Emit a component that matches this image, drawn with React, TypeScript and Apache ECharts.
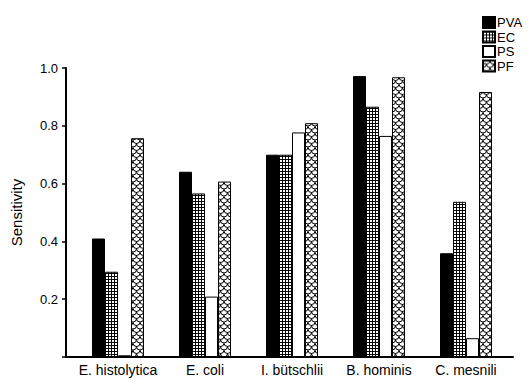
import React, { useEffect, useRef } from "react";
import * as echarts from "echarts";

const categories = ["E. histolytica", "E. coli", "I. bütschlii", "B. hominis", "C. mesnili"];
const seriesNames = ["PVA", "EC", "PS", "PF"];
const pva = [0.41, 0.641, 0.70, 0.972, 0.359];
const ec = [0.295, 0.566, 0.70, 0.866, 0.537];
const ps = [0.006, 0.209, 0.777, 0.765, 0.065];
const pf = [0.757, 0.607, 0.809, 0.968, 0.917];
const yTicks = [0.2, 0.4, 0.6, 0.8, 1.0];

const FONT = "'Liberation Sans', Arial, sans-serif";

function svgUrl(svg: string) {
  return "data:image/svg+xml;charset=utf-8," + encodeURIComponent(svg);
}

const gridTile = svgUrl(
  '<svg xmlns="http://www.w3.org/2000/svg" width="3" height="3"><rect width="3" height="3" fill="#fff"/><path d="M0 0.5H3M0.5 0V3" stroke="#000" stroke-width="1" fill="none"/></svg>'
);
const scaleTile = svgUrl(
  '<svg xmlns="http://www.w3.org/2000/svg" width="7" height="7"><rect width="7" height="7" fill="#fff"/><path d="M0 0A3.5 3.5 0 0 0 7 0M-3.5 3.5A3.5 3.5 0 0 0 3.5 3.5M3.5 3.5A3.5 3.5 0 0 0 10.5 3.5M0 7A3.5 3.5 0 0 0 7 7" stroke="#000" stroke-width="1" fill="none"/></svg>'
);

export default function App() {
  const ref = useRef<HTMLDivElement>(null);
  useEffect(() => {
    if (!ref.current) return;
    const chart = echarts.init(ref.current, null, { renderer: "svg" });
    const fills: any[] = [
      "#000",
      { type: "pattern", image: gridTile, repeat: "repeat", imageWidth: 3, imageHeight: 3 },
      "#fff",
      { type: "pattern", image: scaleTile, repeat: "repeat", imageWidth: 7, imageHeight: 7 },
    ];
    const values = [pva, ec, ps, pf];
    chart.setOption({
      animation: false,
      backgroundColor: "#fff",
      textStyle: { fontFamily: FONT, color: "#000" },
      legend: {
        orient: "vertical",
        left: 477,
        top: 11,
        itemWidth: 12,
        itemHeight: 11,
        itemGap: 1.5,
        icon: "rect",
        textStyle: { fontSize: 13, color: "#000", fontFamily: FONT, padding: [0, 0, 0, -3] },
        data: seriesNames,
      },
      grid: [
        { left: 74.5, right: 21.5, top: 68, bottom: 28 },
        { left: 66, right: 18, top: 68, bottom: 28 },
      ],
      xAxis: [
        {
          type: "category",
          gridIndex: 0,
          data: categories,
          axisLine: { show: false },
          axisTick: { show: false },
          axisLabel: { fontSize: 14, color: "#000", margin: 6, fontFamily: FONT, interval: 0 },
        },
        {
          type: "value",
          gridIndex: 1,
          min: 0,
          max: 1,
          axisLine: { show: true, lineStyle: { color: "#000", width: 2 } },
          axisTick: { show: false },
          axisLabel: { show: false },
          splitLine: { show: false },
        },
      ],
      yAxis: [
        {
          type: "value",
          gridIndex: 0,
          min: 0,
          max: 1,
          show: false,
          splitLine: { show: false },
        },
        {
          type: "value",
          gridIndex: 1,
          min: 0,
          max: 1,
          interval: 0.2,
          name: "Sensitivity",
          nameLocation: "middle",
          nameGap: 42,
          nameTextStyle: { fontSize: 15, color: "#000", fontFamily: FONT },
          axisLine: { show: true, lineStyle: { color: "#000", width: 2 } },
          axisTick: { show: true, length: 4, lineStyle: { color: "#000", width: 1.5 } },
          axisLabel: {
            fontSize: 13,
            color: "#000",
            margin: 8,
            fontFamily: FONT,
            formatter: (v: number) => (yTicks.some((t) => Math.abs(t - v) < 1e-6) ? v.toFixed(1) : ""),
          },
          splitLine: { show: false },
        },
      ],
      series: seriesNames.map((name, i) => ({
        name,
        type: "bar",
        xAxisIndex: 0,
        yAxisIndex: 0,
        data: values[i],
        barWidth: 13,
        barGap: "0%",
        itemStyle: { color: fills[i], borderColor: "#000", borderWidth: 1 },
      })),
    });
    return () => chart.dispose();
  }, []);
  return <div ref={ref} style={{ width: 531, height: 385, position: "absolute", left: 0, top: 0 }} />;
}
